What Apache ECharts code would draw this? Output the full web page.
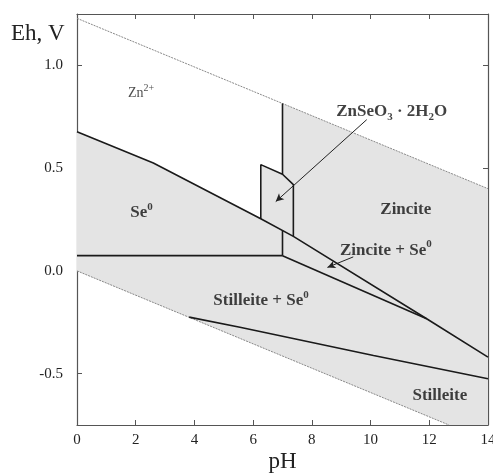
<!DOCTYPE html>
<html><head><meta charset="utf-8">
<script src="https://cdn.jsdelivr.net/npm/echarts@6/dist/echarts.min.js"></script>
<style>html,body{margin:0;padding:0;background:#fff}#c{width:493px;height:473px}</style>
</head><body><div id="c"></div>
<script>
const xTicks = [0, 2, 4, 6, 8, 10, 12, 14];
const yTicks = [-0.5, 0, 0.5, 1.0];
const waterUpper = [[0, 1.229], [14, 0.400]];
const waterLower = [[0, 0], [12.67, -0.75]];
const se0Line = [[0, 0.677], [2.6, 0.525], [6.26, 0.254], [7.37, 0.168], [11.91, -0.233], [14, -0.42]];
const boxEdge = [[6.26, 0.254], [6.26, 0.517], [7.0, 0.47], [7.37, 0.42], [7.37, 0.168]];
const vertUpper = [[7, 0.815], [7, 0.47]];
const vertLower = [[7, 0.197], [7, 0.074]];
const horizLine = [[0, 0.074], [7, 0.074]];
const zinciteSeLine = [[7, 0.074], [11.91, -0.233]];
const stilleiteLine = [[3.82, -0.225], [5.55, -0.274], [10.1, -0.412], [14, -0.525]];
const grayRegion = [[0, 0.677], [2.6, 0.525], [6.26, 0.254], [6.26, 0.517], [7, 0.47], [7, 0.815], [14, 0.400], [14, -0.75], [12.67, -0.75], [0, 0]];
const labelNames = ['{n|Zn}{sup|2+}', '{b|Se}{bsup|0}', '{b|ZnSeO}{bsub|3}{b| · 2H}{bsub|2}{b|O}', '{b|Zincite}', '{b|Zincite + Se}{bsup|0}', '{b|Stilleite + Se}{bsup|0}', '{b|Stilleite}'];
const labelPos = [[2.18, 0.87], [2.2, 0.29], [10.72, 0.784], [11.2, 0.303], [10.52, 0.108], [6.27, -0.139], [12.36, -0.601]];
const arrows = [[[9.87, 0.736], [6.77, 0.337]], [[9.41, 0.068], [8.53, 0.017]]];

const F = 'Liberation Serif, Times New Roman, serif';
const lineStyle = {color: '#1a1a1a', width: 1.6};
function ln(data, extra) {
  return Object.assign({type: 'line', data: data, symbol: 'none', lineStyle: lineStyle, silent: true, z: 5, animation: false}, extra || {});
}
const chart = echarts.init(document.getElementById('c'), null, {renderer: 'canvas'});
const axisCommon = {
  axisLine: {show: true, onZero: false, lineStyle: {color: '#555', width: 1.2}},
  splitLine: {show: false},
};
chart.setOption({
  animation: false,
  grid: {left: 77, right: 5, top: 14, bottom: 48, containLabel: false, outerBoundsMode: 'none'},
  xAxis: [
    Object.assign({type: 'value', min: 0, max: 14, interval: 2, position: 'bottom',
      name: 'pH', nameLocation: 'middle', nameGap: 25, nameMoveOverlap: false,
      nameTextStyle: {fontFamily: F, fontSize: 23, color: '#222', verticalAlign: 'top'},
      axisTick: {inside: true, length: 5, lineStyle: {color: '#555'}},
      axisLabel: {fontFamily: F, fontSize: 15, color: '#222', margin: 8}}, axisCommon),
    Object.assign({type: 'value', min: 0, max: 14, interval: 2, position: 'top',
      axisTick: {inside: true, length: 5, lineStyle: {color: '#555'}},
      axisLabel: {show: false}}, axisCommon)
  ],
  yAxis: [
    Object.assign({type: 'value', min: -0.75, max: 1.25, position: 'left',
      axisTick: {inside: true, length: 5, customValues: yTicks, lineStyle: {color: '#555'}},
      axisLabel: {fontFamily: F, fontSize: 15, color: '#222', margin: 14, customValues: yTicks,
        formatter: v => v.toFixed(1)}}, axisCommon),
    Object.assign({type: 'value', min: -0.75, max: 1.25, position: 'right',
      axisTick: {inside: true, length: 5, customValues: yTicks, lineStyle: {color: '#555'}},
      axisLabel: {show: false, customValues: yTicks}}, axisCommon)
  ],
  graphic: [{type: 'text', left: 11, top: 22, style: {text: 'Eh, V', fontFamily: F, fontSize: 23, fill: '#222'}}],
  series: [
    {type: 'custom', silent: true, z: 1, data: [0],
      renderItem: function (params, api) {
        const pts = grayRegion.map(p => api.coord(p));
        return {type: 'polygon', shape: {points: pts}, style: {fill: '#e4e4e4', stroke: null}};
      }},
    ln(waterUpper, {lineStyle: {color: '#888', width: 1, type: [2, 1]}, z: 3}),
    ln(waterLower, {lineStyle: {color: '#888', width: 1, type: [2, 1]}, z: 3}),
    ln(se0Line),
    ln(boxEdge),
    ln(vertUpper),
    ln(vertLower),
    ln(horizLine),
    ln(zinciteSeLine),
    ln(stilleiteLine),
    {type: 'scatter', symbolSize: 0, silent: true, z: 10,
      data: labelNames.map((n, i) => ({name: n, value: labelPos[i]})),
      label: {show: true, position: 'inside', formatter: p => p.name, color: '#111',
        rich: {
          n: {fontFamily: F, fontSize: 14, color: '#222', lineHeight: 17, verticalAlign: 'bottom'},
          sup: {fontFamily: F, fontSize: 10, color: '#222', lineHeight: 17, verticalAlign: 'top'},
          b: {fontFamily: F, fontSize: 17, fontWeight: 'bold', color: '#111', lineHeight: 20, verticalAlign: 'bottom'},
          bsup: {fontFamily: F, fontSize: 11, fontWeight: 'bold', color: '#111', lineHeight: 20, verticalAlign: 'top'},
          bsub: {fontFamily: F, fontSize: 11, fontWeight: 'bold', color: '#111', lineHeight: 15, verticalAlign: 'bottom', padding: [0, 0, -3, 0]}
        }}},
    {type: 'line', data: [], silent: true, z: 8,
      markLine: {silent: true, symbol: ['none', 'arrow'], symbolSize: [6, 8], label: {show: false},
        lineStyle: {color: '#222', width: 1, type: 'solid'},
        data: arrows.map(a => [{coord: a[0]}, {coord: a[1]}])}}
  ]
});
</script></body></html>
